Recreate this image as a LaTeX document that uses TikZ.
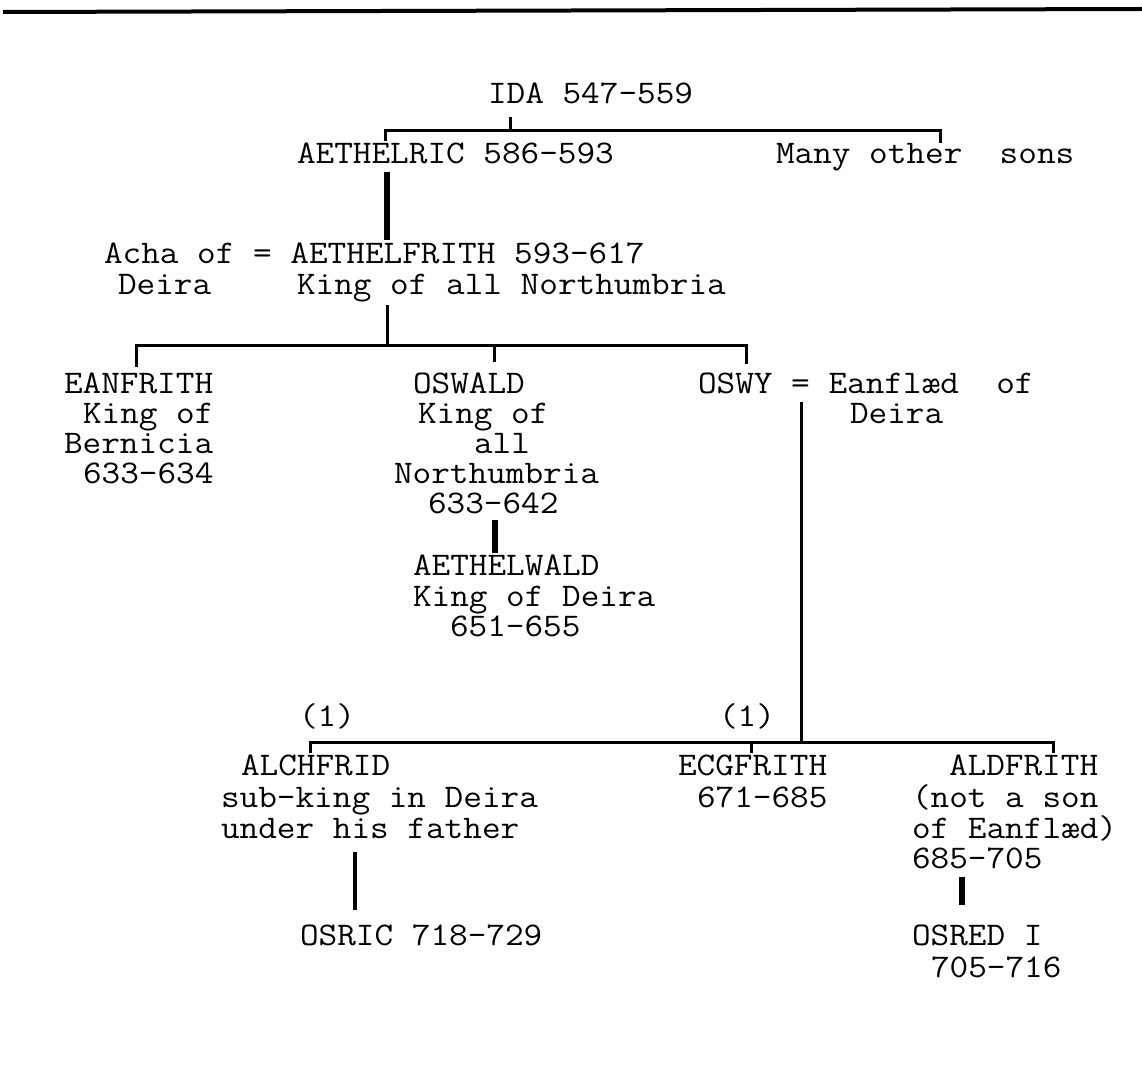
\documentclass[tikz,border=0pt]{standalone}
\usepackage{graphicx}
\newcommand{\twx}[1]{\scalebox{1.097}[1]{#1}}
\begin{document}
\begin{tikzpicture}[x=1pt,y=-1pt,
  tw/.style={font=\ttfamily\fontsize{33}{30}\selectfont, anchor=base west,
    inner sep=0pt, outer sep=0pt, text height=18pt, text depth=5pt},
  ln/.style={line width=3pt},
  thk/.style={line width=5.5pt},
  rule/.style={line width=4pt}]
\useasboundingbox (0,0) rectangle (1142,1067);
% top rule
\coordinate (ruleL) at (3,12);
\coordinate (ruleR) at (1142,9);
\draw[rule] (ruleL) -- (ruleR);
% texts
\node[tw] (ida) at (488,104) {\twx{IDA 547-559}};
\node[tw] (aethelric) at (297,164) {\twx{AETHELRIC 586-593}};
\node[tw] (many) at (776,164) {\twx{Many other\ \ sons}};
\node[tw] (acha) at (104,263) {\twx{Acha of = AETHELFRITH 593-617}};
\node[tw] (deiraA) at (118,294) {\twx{Deira}};
\node[tw] (kingall) at (297,294) {\twx{King of all Northumbria}};
\node[tw] (eanfrith) at (64,393) {\twx{EANFRITH}};
\node[tw] (eanK) at (83,423) {\twx{King of}};
\node[tw] (eanB) at (64,453) {\twx{Bernicia}};
\node[tw] (eanD) at (83,483) {\twx{633-634}};
\node[tw] (oswald) at (413,393) {\twx{OSWALD}};
\node[tw] (oswK) at (418,423) {\twx{King of}};
\node[tw] (oswA) at (474,453) {\twx{all}};
\node[tw] (oswN) at (394,483) {\twx{Northumbria}};
\node[tw] (oswD) at (428,513) {\twx{633-642}};
\node[tw] (aethelwald) at (413,575) {\twx{AETHELWALD}};
\node[tw] (awK) at (413,606) {\twx{King of Deira}};
\node[tw] (awD) at (450,636) {\twx{651-655}};
\node[tw] (oswy) at (698,393) {\twx{OSWY = Eanflæd\ \ of}};
\node[tw] (deiraB) at (850,423) {\twx{Deira}};
\node[tw] (oneA) at (299,726) {\twx{(1)}};
\node[tw] (oneB) at (719,726) {\twx{(1)}};
\node[tw] (alchfrid) at (241,775) {\twx{ALCHFRID}};
\node[tw] (alS) at (221,807) {\twx{sub-king in Deira}};
\node[tw] (alU) at (221,838) {\twx{under his father}};
\node[tw] (ecgfrith) at (678,775) {\twx{ECGFRITH}};
\node[tw] (ecgD) at (697,807) {\twx{671-685}};
\node[tw] (aldfrith) at (949,775) {\twx{ALDFRITH}};
\node[tw] (aldN) at (912,807) {\twx{(not a son}};
\node[tw] (aldO) at (912,838) {\twx{of Eanflæd)}};
\node[tw] (aldD) at (912,868) {\twx{685-705}};
\node[tw] (osric) at (300,945) {\twx{OSRIC 718-729}};
\node[tw] (osred) at (912,945) {\twx{OSRED I}};
\node[tw] (osredD) at (931,977) {\twx{705-716}};
% connectors: Ida's sons
\coordinate (idaS) at (510,117);
\coordinate (b1) at (510,131);
\coordinate (b1L) at (385,131);
\coordinate (b1Lt) at (385,141);
\coordinate (b1R) at (940,131);
\coordinate (b1Rt) at (940,143);
\draw[ln] (idaS) -- (b1);
\draw[ln] (b1Lt) -- (b1L) -- (b1R) -- (b1Rt);
% Aethelric to Aethelfrith
\coordinate (aeT) at (387,172);
\coordinate (aeB) at (387,240);
\draw[thk] (aeT) -- (aeB);
% Aethelfrith's sons
\coordinate (afT) at (387,305);
\coordinate (b2) at (387,345);
\coordinate (b2L) at (136,345);
\coordinate (b2Lt) at (136,367);
\coordinate (b2M) at (494,345);
\coordinate (b2Mt) at (494,362);
\coordinate (b2R) at (746,345);
\coordinate (b2Rt) at (746,364);
\draw[ln] (afT) -- (b2);
\draw[ln] (b2Lt) -- (b2L) -- (b2R) -- (b2Rt);
\draw[ln] (b2M) -- (b2Mt);
% Oswald to Aethelwald
\coordinate (owT) at (495,520);
\coordinate (owB) at (495,553);
\draw[line width=6pt] (owT) -- (owB);
% Oswy's sons
\coordinate (oyT) at (801,402);
\coordinate (b3) at (801,742);
\coordinate (b3L) at (310,742);
\coordinate (b3Lt) at (310,753);
\coordinate (b3M) at (751,742);
\coordinate (b3Mt) at (751,753);
\coordinate (b3R) at (1053,742);
\coordinate (b3Rt) at (1053,753);
\draw[ln] (oyT) -- (b3);
\draw[ln] (b3Lt) -- (b3L) -- (b3R) -- (b3Rt);
\draw[ln] (b3M) -- (b3Mt);
% Alchfrid to Osric
\coordinate (ocT) at (355,852);
\coordinate (ocB) at (355,910);
\draw[line width=4pt] (ocT) -- (ocB);
% Aldfrith to Osred
\coordinate (odT) at (962,877);
\coordinate (odB) at (962,905);
\draw[line width=6pt] (odT) -- (odB);
\end{tikzpicture}
\end{document}
